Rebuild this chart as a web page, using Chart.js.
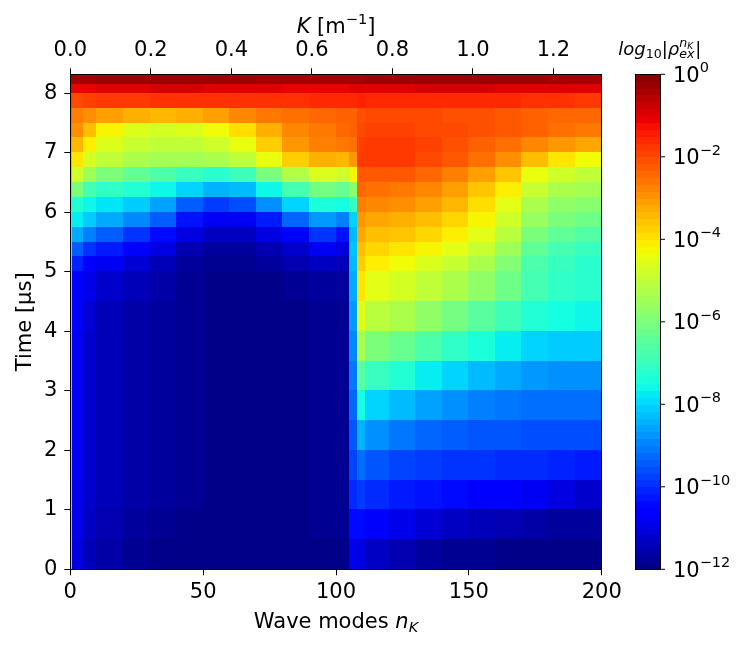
<!DOCTYPE html>
<html><head><meta charset="utf-8">
<script src="https://cdn.jsdelivr.net/npm/chart.js@4.4.1/dist/chart.umd.min.js"></script>
<style>html,body{margin:0;padding:0;background:#fff;}#wrap{width:747px;height:647px;position:relative;}</style>
</head><body><div id="wrap"><canvas id="c"></canvas></div>
<script>
// ---- data ----
// column edges in wave-mode number n_K
const modeEdges = [0,1,5,10,20,30,40,50,60,70,80,90,100,105,108,111,120,130,140,150,160,170,180,190,200];
// row edges in time (µs), listed top to bottom
const timeEdges = [8.32,8.15,8.0,7.75,7.5,7.25,7.0,6.75,6.5,6.25,6.0,5.75,5.5,5.25,5.0,4.5,4.0,3.5,3.0,2.5,2.0,1.5,1.0,0.5,0];
// log10|rho| for each cell, rows top to bottom, columns left to right
const logRho = [
 [-0.4,-0.4,-0.4,-0.35,-0.35,-0.3,-0.3,-0.35,-0.35,-0.4,-0.4,-0.4,-0.4,-0.4,-0.4,-0.35,-0.35,-0.3,-0.3,-0.3,-0.35,-0.35,-0.4,-0.4],
 [-1.0,-1.1,-1.1,-1.0,-1.0,-0.9,-0.9,-1.0,-1.0,-1.0,-1.1,-1.1,-1.1,-1.0,-1.0,-1.0,-1.0,-0.9,-0.9,-0.9,-1.0,-1.0,-1.0,-1.0],
 [-1.8,-2.0,-1.9,-1.8,-1.8,-1.7,-1.7,-1.7,-1.7,-1.7,-1.7,-1.6,-1.6,-1.6,-1.5,-1.6,-1.6,-1.6,-1.6,-1.6,-1.6,-1.7,-1.7,-1.8],
 [-2.3,-2.7,-2.9,-3.1,-3.3,-3.4,-3.3,-3.1,-2.8,-2.6,-2.5,-2.4,-2.3,-2.3,-2.1,-2.0,-2.0,-2.0,-2.1,-2.1,-2.2,-2.3,-2.4,-2.4],
 [-2.6,-2.9,-3.5,-4.2,-4.6,-4.7,-4.6,-4.3,-3.9,-3.3,-2.8,-2.6,-2.4,-2.3,-2.0,-1.9,-1.9,-2.0,-2.0,-2.1,-2.2,-2.3,-2.5,-2.6],
 [-3.0,-3.4,-4.1,-4.6,-4.9,-5.0,-5.0,-4.8,-4.4,-3.7,-3.0,-2.7,-2.6,-2.5,-1.9,-1.8,-1.8,-1.9,-2.1,-2.3,-2.5,-2.8,-3.0,-3.2],
 [-3.3,-4.0,-4.7,-5.0,-5.3,-5.4,-5.4,-5.3,-5.0,-4.4,-3.7,-3.3,-3.4,-3.0,-1.8,-1.8,-1.8,-2.0,-2.2,-2.5,-2.9,-3.5,-4.0,-4.3],
 [-3.3,-4.8,-5.5,-6.0,-6.4,-6.7,-7.0,-7.2,-6.9,-6.0,-5.2,-4.6,-4.8,-4.2,-2.2,-2.2,-2.2,-2.4,-2.7,-3.1,-3.6,-4.4,-4.8,-5.0],
 [-3.3,-6.0,-6.8,-7.1,-7.3,-7.6,-8.0,-8.4,-8.3,-7.6,-6.8,-6.1,-6.3,-5.8,-2.4,-2.5,-2.6,-2.8,-3.1,-3.6,-4.1,-4.9,-5.3,-5.4],
 [-3.3,-7.3,-7.6,-7.8,-8.1,-8.6,-9.4,-9.8,-9.6,-8.8,-8.0,-7.4,-7.5,-7.0,-2.7,-2.8,-2.9,-3.1,-3.4,-3.9,-4.5,-5.3,-5.7,-5.8],
 [-3.3,-7.7,-8.1,-8.5,-8.9,-9.4,-10.3,-10.8,-10.8,-10.2,-9.3,-8.7,-9.0,-8.0,-3.0,-3.2,-3.3,-3.5,-3.8,-4.2,-4.8,-5.6,-6.0,-6.2],
 [-3.3,-8.5,-9.0,-9.4,-9.9,-10.4,-11.0,-11.3,-11.3,-11.0,-10.5,-9.9,-10.3,-8.3,-3.2,-3.5,-3.6,-3.8,-4.1,-4.5,-5.1,-6.0,-6.4,-6.6],
 [-3.3,-9.4,-9.9,-10.2,-10.6,-11.0,-11.5,-11.7,-11.7,-11.5,-11.2,-10.8,-11.0,-8.2,-3.5,-3.8,-4.0,-4.2,-4.5,-4.9,-5.5,-6.4,-6.8,-7.0],
 [-3.3,-10.1,-10.5,-10.8,-11.1,-11.4,-11.7,-11.8,-11.8,-11.7,-11.5,-11.3,-11.4,-8.3,-3.7,-4.1,-4.3,-4.6,-4.9,-5.3,-5.9,-6.7,-7.0,-7.2],
 [-3.3,-10.5,-10.9,-11.2,-11.4,-11.6,-11.8,-11.9,-11.9,-11.9,-11.8,-11.7,-11.7,-8.5,-4.0,-4.5,-4.7,-5.0,-5.3,-5.7,-6.2,-6.8,-7.1,-7.2],
 [-3.3,-10.7,-11.1,-11.4,-11.6,-11.7,-11.8,-11.9,-11.9,-11.9,-11.9,-11.8,-11.8,-8.7,-4.6,-5.1,-5.3,-5.7,-6.1,-6.5,-6.9,-7.3,-7.5,-7.6],
 [-3.3,-10.8,-11.2,-11.4,-11.6,-11.7,-11.8,-11.9,-11.9,-11.9,-11.9,-11.8,-11.8,-8.9,-5.4,-6.0,-6.3,-6.7,-7.1,-7.4,-7.7,-8.0,-8.1,-8.1],
 [-3.3,-10.8,-11.2,-11.4,-11.6,-11.7,-11.8,-11.9,-11.9,-11.9,-11.9,-11.8,-11.8,-9.1,-6.5,-7.0,-7.3,-7.7,-8.0,-8.3,-8.5,-8.7,-8.8,-8.8],
 [-3.3,-10.8,-11.2,-11.4,-11.6,-11.7,-11.8,-11.9,-11.9,-11.9,-11.9,-11.8,-11.8,-9.3,-7.5,-8.0,-8.3,-8.6,-8.8,-9.0,-9.1,-9.2,-9.2,-9.2],
 [-3.3,-10.8,-11.2,-11.4,-11.6,-11.7,-11.8,-11.9,-11.9,-11.9,-11.9,-11.8,-11.8,-9.5,-8.4,-8.8,-9.1,-9.3,-9.4,-9.5,-9.5,-9.6,-9.6,-9.6],
 [-3.3,-10.8,-11.2,-11.4,-11.6,-11.7,-11.8,-11.9,-11.9,-11.9,-11.9,-11.8,-11.8,-9.7,-9.2,-9.5,-9.7,-9.8,-9.9,-9.9,-10.0,-10.0,-10.1,-10.2],
 [-3.3,-10.9,-11.2,-11.4,-11.6,-11.7,-11.8,-11.9,-11.9,-11.9,-11.9,-11.8,-11.8,-10.0,-9.8,-10.0,-10.2,-10.3,-10.4,-10.5,-10.6,-10.8,-11.0,-11.2],
 [-3.3,-10.9,-11.3,-11.5,-11.7,-11.8,-11.9,-11.9,-11.9,-11.9,-11.9,-11.8,-11.8,-10.4,-10.4,-10.7,-10.9,-11.1,-11.3,-11.4,-11.5,-11.6,-11.7,-11.7],
 [-3.3,-11.0,-11.4,-11.6,-11.8,-11.9,-11.9,-11.9,-11.9,-11.9,-11.9,-11.9,-11.9,-10.9,-11.0,-11.3,-11.5,-11.7,-11.8,-11.8,-11.9,-11.9,-11.9,-11.9]
];
// axis ranges and tick values
const modeTicks = [0,50,100,150,200];
const kTicks = [0.0,0.2,0.4,0.6,0.8,1.0,1.2];
const kMax = 1.32;
const timeTicks = [0,1,2,3,4,5,6,7,8];
const cbMin = -12, cbMax = 0;
const cbExponents = [0,-2,-4,-6,-8,-10,-12];
const cbLevels = 72;

// ---- jet colour map ----
const jetR = [[0,0],[0.35,0],[0.66,1],[0.89,1],[1,0.5]];
const jetG = [[0,0],[0.125,0],[0.375,1],[0.64,1],[0.91,0],[1,0]];
const jetB = [[0,0.5],[0.11,1],[0.34,1],[0.65,0],[1,0]];
function seg(p, f){
  for (let i=1;i<p.length;i++){
    if (f<=p[i][0]) { const t=(f-p[i-1][0])/(p[i][0]-p[i-1][0]); return p[i-1][1]+t*(p[i][1]-p[i-1][1]); }
  }
  return p[p.length-1][1];
}
function jetColor(v){
  let f=(v-cbMin)/(cbMax-cbMin); f=Math.min(1,Math.max(0,f));
  return 'rgb('+Math.round(seg(jetR,f)*255)+','+Math.round(seg(jetG,f)*255)+','+Math.round(seg(jetB,f)*255)+')';
}

const FONT = '"DejaVu Sans"';
function drawParts(ctx, parts, x, y){
  let cx=x;
  for (const p of parts){ ctx.font=p.font; ctx.fillText(p.t, cx, y+(p.dy||0)); cx+=ctx.measureText(p.t).width; }
  return cx;
}
function partsWidth(ctx, parts){
  let w=0; for (const p of parts){ ctx.font=p.font; w+=ctx.measureText(p.t).width; } return w;
}

const heatmapPlugin = {
  id:'heatmap',
  beforeDatasetsDraw(chart){
    const {ctx, chartArea:a, scales:{x,y}} = chart;
    ctx.save();
    ctx.beginPath(); ctx.rect(a.left,a.top,a.width,a.height); ctx.clip();
    for (let i=0;i<logRho.length;i++){
      const y0=y.getPixelForValue(timeEdges[i]), y1=y.getPixelForValue(timeEdges[i+1]);
      for (let j=0;j<logRho[i].length;j++){
        const x0=x.getPixelForValue(modeEdges[j]), x1=x.getPixelForValue(modeEdges[j+1]);
        ctx.fillStyle=jetColor(logRho[i][j]);
        ctx.fillRect(Math.floor(x0), Math.floor(y0), Math.ceil(x1)-Math.floor(x0), Math.ceil(y1)-Math.floor(y0));
      }
    }
    ctx.restore();
  },
  afterDraw(chart){
    const {ctx, chartArea:a, scales:{cb}} = chart;
    ctx.save();
    // colour bar
    const bx0=a.right+33.3, bx1=a.right+58.3;
    for (let k=0;k<cbLevels;k++){
      const v0=cbMin+(cbMax-cbMin)*k/cbLevels, v1=cbMin+(cbMax-cbMin)*(k+1)/cbLevels;
      const p0=cb.getPixelForValue(v0), p1=cb.getPixelForValue(v1);
      ctx.fillStyle=jetColor((v0+v1)/2);
      ctx.fillRect(bx0, Math.floor(p1), bx1-bx0, Math.ceil(p0)-Math.floor(p1));
    }
    ctx.strokeStyle='#000'; ctx.lineWidth=1;
    ctx.strokeRect(Math.round(bx0)+0.5, Math.round(cb.getPixelForValue(cbMax))+0.5, Math.round(bx1-bx0), Math.round(cb.getPixelForValue(cbMin)-cb.getPixelForValue(cbMax)));
    ctx.fillStyle='#000'; ctx.textBaseline='alphabetic'; ctx.textAlign='left';
    for (const e of cbExponents){
      const py=cb.getPixelForValue(e);
      ctx.beginPath(); ctx.moveTo(bx1,py); ctx.lineTo(bx1+5,py); ctx.stroke();
      const exp = e===0 ? '0' : '\u2212'+String(-e);
      drawParts(ctx,[{t:'10',font:'21px '+FONT},{t:exp,font:'14.5px '+FONT,dy:-9.5}], bx1+13, py+7.5);
    }
    // colour bar title
    let tx=a.right+16.5; const ty=55;
    tx=drawParts(ctx,[{t:'log',font:'italic 18px '+FONT},{t:'10',font:'12.6px '+FONT,dy:2.5},{t:'|',font:'18px '+FONT},{t:'\u03c1',font:'italic 18px '+FONT}], tx, ty);
    ctx.font='italic 12.6px '+FONT; ctx.fillText('n',tx,ty-8); const nw=ctx.measureText('n').width;
    ctx.font='italic 9px '+FONT; ctx.fillText('K',tx+nw,ty-6); const kw=ctx.measureText('K').width;
    ctx.font='italic 12.6px '+FONT; ctx.fillText('ex',tx,ty+2.5); const ew=ctx.measureText('ex').width;
    tx+=Math.max(nw+kw,ew)+1;
    ctx.font='18px '+FONT; ctx.fillText('|',tx,ty);
    // axis titles
    const cx=(a.left+a.right)/2;
    const topParts=[{t:'K',font:'italic 21px '+FONT},{t:' [m',font:'21px '+FONT},{t:'\u22121',font:'14.5px '+FONT,dy:-9},{t:']',font:'21px '+FONT}];
    drawParts(ctx,topParts,cx-partsWidth(ctx,topParts)/2,33);
    const botParts=[{t:'Wave modes ',font:'21px '+FONT},{t:'n',font:'italic 21px '+FONT},{t:'K',font:'italic 14.5px '+FONT,dy:4}];
    drawParts(ctx,botParts,cx-partsWidth(ctx,botParts)/2,628);
    ctx.translate(31,(a.top+a.bottom)/2); ctx.rotate(-Math.PI/2);
    ctx.font='21px '+FONT; ctx.textAlign='center'; ctx.fillText('Time [\u00b5s]',0,0);
    ctx.restore();
  }
};

const tickFont={family:'DejaVu Sans',size:21};
const gridOpt={drawOnChartArea:false,tickLength:6,color:'#000',tickColor:'#000',tickWidth:1};
const borderOpt={display:true,color:'#000',width:1,z:1};
new Chart(document.getElementById('c'),{
  type:'scatter',
  data:{datasets:[]},
  options:{
    responsive:true, maintainAspectRatio:false, animation:false, events:[],
    layout:{padding:0},
    plugins:{legend:{display:false},tooltip:{enabled:false}},
    scales:{
      x:{type:'linear',position:'bottom',min:0,max:200,
         afterBuildTicks(s){s.ticks=modeTicks.map(v=>({value:v}));},
         ticks:{color:'#000',font:tickFont,padding:5,maxRotation:0,includeBounds:false},
         grid:gridOpt,border:borderOpt,afterFit(s){s.height=77.7;}},
      x2:{type:'linear',position:'top',min:0,max:kMax,
         afterBuildTicks(s){s.ticks=kTicks.map(v=>({value:v}));},
         ticks:{color:'#000',font:tickFont,padding:5,maxRotation:0,includeBounds:false,callback:v=>Number(v).toFixed(1)},
         grid:gridOpt,border:borderOpt,afterFit(s){s.height=74.3;}},
      y:{type:'linear',position:'left',min:0,max:timeEdges[0],
         afterBuildTicks(s){s.ticks=timeTicks.map(v=>({value:v}));},
         ticks:{color:'#000',font:tickFont,padding:7,includeBounds:false},
         grid:gridOpt,border:borderOpt,afterFit(s){s.width=70.3;}},
      cb:{type:'linear',position:'right',min:cbMin,max:cbMax,
         ticks:{display:false},grid:{display:false},border:borderOpt,afterFit(s){s.width=145.3;}}
    }
  },
  plugins:[heatmapPlugin]
});
</script></body></html>
